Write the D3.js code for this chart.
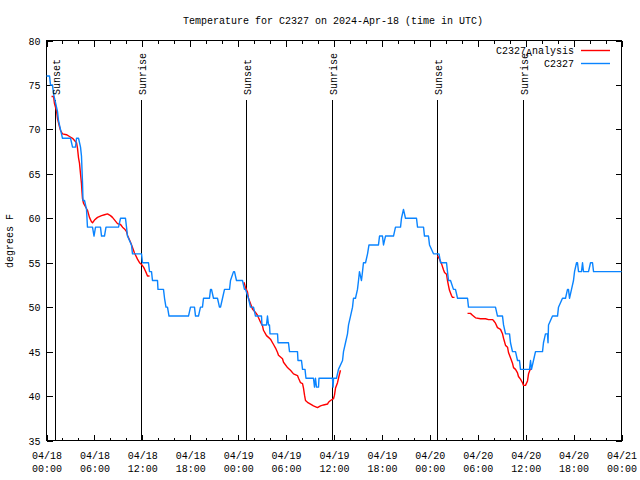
<!DOCTYPE html>
<html><head><meta charset="utf-8">
<script src="https://cdn.jsdelivr.net/npm/d3@7"></script>
<style>
body{margin:0;background:#fff}
text{font-family:"Liberation Mono","DejaVu Sans Mono",monospace;font-size:10px;fill:#000}
</style>
</head><body>
<svg id="c" width="640" height="480"></svg>
<script>
const titleText = "Temperature for C2327 on 2024-Apr-18 (time in UTC)";
const yLabel = "degrees F";
const startUTC = Date.UTC(2024, 3, 18);
const endUTC = Date.UTC(2024, 3, 21);
const yTicks = [35, 40, 45, 50, 55, 60, 65, 70, 75, 80];

// C2327 observations: hours since 2024-04-18 00:00 UTC, degrees F
const obsHours = [0,0.38,0.50,0.75,0.88,1.13,1.38,1.50,1.75,2.00,3.01,3.26,3.63,3.76,4.01,4.26,4.38,4.51,4.57,4.76,5.01,5.13,5.76,5.95,6.14,6.76,6.89,7.26,7.45,9.02,9.27,9.89,10.02,10.14,10.64,10.77,11.90,12.02,12.77,12.90,13.15,13.27,13.90,13.96,14.65,14.78,14.96,15.15,15.34,17.78,18.03,18.53,18.66,19.03,19.28,19.53,19.66,20.41,20.54,20.66,20.91,21.41,21.66,21.79,22.04,22.29,22.92,23.04,23.42,23.54,23.79,24.54,24.79,24.92,25.29,25.54,25.92,26.17,26.92,26.98,27.55,27.67,27.80,27.92,27.99,28.93,28.99,30.30,30.43,31.43,31.49,31.93,32.06,32.37,32.49,33.43,33.56,33.68,33.81,34.06,34.12,35.81,35.88,35.94,36.31,36.56,37.07,37.19,37.44,37.69,37.82,38.07,38.32,38.44,38.69,38.94,39.07,39.19,39.44,39.57,39.69,39.95,40.20,40.38,41.57,41.70,42.07,42.20,42.45,43.45,43.70,44.33,44.45,44.70,44.95,46.33,46.46,47.21,47.33,47.83,47.96,48.46,49.15,49.34,50.09,50.21,50.34,50.59,50.96,51.21,51.47,52.72,52.84,56.22,56.47,57.10,57.23,57.48,57.98,58.10,58.35,58.73,58.98,59.23,59.35,60.48,60.61,60.73,60.98,61.23,62.11,62.23,62.48,62.73,62.80,62.86,63.36,63.99,64.11,64.61,64.99,65.24,65.36,65.49,65.74,65.99,66.12,66.37,66.49,66.62,66.99,67.12,67.24,67.87,68.12,68.37,68.50,72.00];
const obsTemps = [76,76,75,75,74,73,72,71,70,69,69,68,68,69,69,68,67,64,62,62,61,59,59,58,59,59,58,58,59,59,60,60,59,58,57,56,56,55,55,54,54,53,53,52,52,51,50,50,49,49,50,50,49,49,50,50,51,51,52,52,51,51,50,50,51,52,52,53,54,54,53,53,52,52,51,50,50,49,49,48,48,49,48,48,47,47,46,46,45,45,44,44,43,43,42,42,41,42,41,41,42,42,41,42,42,43,44,45,46,47,48,49,50,51,51,52,53,54,53,54,55,55,56,57,57,58,58,57,58,58,59,59,60,61,60,60,59,59,58,58,57,56,56,55,55,54,53,53,52,52,51,51,50,50,49,49,48,47,47,46,45,45,44,44,43,43,44,43,44,45,45,46,47,47,46,48,49,49,50,51,51,52,52,51,52,53,54,55,55,54,54,55,54,54,55,55,54,54];

// C2327_Analysis: hours since start, degrees F (null = gap)
const anaHours = [0.63,0.88,1.00,1.25,1.38,1.63,1.75,2.00,2.50,2.88,3.26,3.76,3.88,4.01,4.13,4.26,4.38,4.45,4.51,4.63,4.88,5.13,5.38,5.63,5.76,6.01,6.39,6.89,7.26,7.64,8.01,8.26,8.89,9.27,9.52,9.77,10.02,10.14,10.52,10.77,11.02,11.39,11.65,11.90,12.15,12.27,12.52,12.65,12.90,
  18.0,
  24.73,24.92,25.17,25.29,25.54,25.79,26.17,26.42,26.55,26.80,27.05,27.17,27.55,27.80,28.05,28.30,28.43,28.68,28.93,29.05,29.55,29.68,30.18,30.30,30.55,30.93,31.43,31.56,31.81,32.06,32.18,32.31,32.43,32.68,33.06,33.43,33.93,34.31,34.69,35.19,35.31,35.56,35.94,36.06,36.19,36.44,36.56,36.81,
  42.0,
  48.96,49.21,49.46,49.71,49.84,50.09,50.21,50.34,50.46,50.71,50.84,51.09,
  52.0,
  52.72,53.09,53.34,53.72,54.35,54.97,55.35,55.85,55.97,56.22,56.47,56.85,57.10,57.23,57.48,57.73,57.85,58.10,58.35,58.48,58.73,58.98,59.10,59.35,59.60,59.73,59.98,60.23,60.36,60.61];
const anaTemps = [73.7,73.7,72.9,72.1,71.2,70.3,69.9,69.5,69.4,69.2,69.0,68.5,67.9,66.8,66.2,65.0,63.9,62.9,62.2,61.7,61.3,60.9,60.1,59.6,59.5,59.8,60.1,60.3,60.4,60.5,60.3,60.1,59.4,59.3,59.0,58.8,58.5,58.1,57.3,56.7,56.1,55.4,55.0,54.8,54.5,54.3,53.8,53.5,53.5,
  null,
  52.8,52.2,51.7,51.0,50.4,49.8,49.4,49.1,48.8,48.3,47.9,47.4,46.8,46.6,46.4,46.0,45.8,45.4,44.9,44.6,44.2,43.8,43.2,43.1,42.9,42.5,42.3,42.0,41.5,41.4,40.9,40.1,39.5,39.3,39.1,38.9,38.7,38.9,39.0,39.1,39.3,39.5,39.7,40.1,40.9,41.5,42.0,42.9,
  null,
  55.8,55.4,54.9,54.2,53.9,53.7,53.0,52.4,51.9,51.3,51.1,51.1,
  null,
  49.3,49.3,49.1,48.8,48.7,48.7,48.6,48.6,48.5,48.2,47.7,47.5,47.0,46.5,45.7,45.5,44.9,44.3,43.7,43.2,43.0,42.6,42.2,41.9,41.5,41.2,41.2,41.7,42.5,43.1];

const sunLabels = ["Sunset","Sunrise","Sunset","Sunrise","Sunset","Sunrise"];
const sunTimes = ["2024-04-18T01:04:00Z","2024-04-18T11:50:00Z","2024-04-19T01:01:00Z","2024-04-19T11:47:00Z","2024-04-20T01:00:00Z","2024-04-20T11:46:00Z"];

const seriesNames = ["C2327_Analysis", "C2327"];
const seriesColors = ["#ff0000", "#0a84ff"];

const svg = d3.select("#c");
const L = 46, R = 621, T = 40, B = 440;
const x = d3.scaleUtc().domain([new Date(startUTC), new Date(endUTC)]).range([L, R]);
const y = d3.scaleLinear().domain([35, 80]).range([B, T]);
const toDate = h => new Date(startUTC + h * 3600000);

const obs = obsHours.map((h, i) => ({t: toDate(h), v: obsTemps[i]}));
const ana = anaHours.map((h, i) => ({t: toDate(h), v: anaTemps[i]}));

const majorTicks = d3.utcHour.every(6).range(new Date(startUTC), new Date(endUTC + 1));
const minorTicks = d3.utcHour.every(2).range(new Date(startUTC), new Date(endUTC + 1)).filter(d => d.getUTCHours() % 6 !== 0);

const g = svg.append("g").attr("transform", "translate(0.5,0.5)");

function styleAxis(sel) {
  sel.select(".domain").remove();
  sel.selectAll("line").attr("stroke", "#000").attr("shape-rendering", "crispEdges");
}

// bottom axis
const xb = g.append("g").attr("transform", `translate(0,${B})`)
  .call(d3.axisBottom(x).tickValues(majorTicks).tickSizeInner(-6).tickSizeOuter(0).tickPadding(0)
    .tickFormat(d3.utcFormat("%m/%d|%H:%M")));
styleAxis(xb);
xb.selectAll("text").each(function(d) {
  const parts = d3.utcFormat("%m/%d|%H:%M")(d).split("|");
  const t = d3.select(this).attr("dy", null).attr("y", 18).text(null);
  t.append("tspan").attr("x", 0).attr("y", 18).text(parts[0]);
  t.append("tspan").attr("x", 0).attr("y", 31).text(parts[1]);
});
xb.attr("font-family", null).attr("font-size", null);

const xbm = g.append("g").attr("transform", `translate(0,${B})`)
  .call(d3.axisBottom(x).tickValues(minorTicks).tickSizeInner(-3).tickSizeOuter(0).tickFormat(""));
styleAxis(xbm);

// top axis
const xt = g.append("g").attr("transform", `translate(0,${T})`)
  .call(d3.axisTop(x).tickValues(majorTicks).tickSizeInner(-6).tickSizeOuter(0).tickFormat(""));
styleAxis(xt);
const xtm = g.append("g").attr("transform", `translate(0,${T})`)
  .call(d3.axisTop(x).tickValues(minorTicks).tickSizeInner(-3).tickSizeOuter(0).tickFormat(""));
styleAxis(xtm);

// left axis
const yl = g.append("g").attr("transform", `translate(${L},0)`)
  .call(d3.axisLeft(y).tickValues(yTicks).tickSizeInner(-6).tickSizeOuter(0).tickPadding(6));
styleAxis(yl);
yl.attr("font-family", null).attr("font-size", null);
yl.selectAll("text").attr("dy", "0.35em");

// right axis
const yr = g.append("g").attr("transform", `translate(${R},0)`)
  .call(d3.axisRight(y).tickValues(yTicks).tickSizeInner(-6).tickSizeOuter(0).tickFormat(""));
styleAxis(yr);

// border
g.append("rect").attr("x", L).attr("y", T).attr("width", R - L).attr("height", B - T)
  .attr("fill", "none").attr("stroke", "#000").attr("shape-rendering", "crispEdges");

// sun events
sunTimes.forEach((s, i) => {
  const xx = Math.round(x(new Date(s)));
  g.append("line").attr("x1", xx).attr("x2", xx).attr("y1", 99).attr("y2", B)
    .attr("stroke", "#000").attr("stroke-width", 1.2).attr("shape-rendering", "crispEdges");
  svg.append("text").attr("transform", `translate(${xx + 5},95) rotate(-90)`)
    .attr("text-anchor", "start").text(sunLabels[i]);
});

// lines
const line = d3.line().defined(d => d.v != null).x(d => x(d.t)).y(d => y(d.v));
g.append("path").datum(ana).attr("d", line).attr("fill", "none")
  .attr("stroke", seriesColors[0]).attr("stroke-width", 1.4).attr("stroke-linejoin", "round");
g.append("path").datum(obs).attr("d", line).attr("fill", "none")
  .attr("stroke", seriesColors[1]).attr("stroke-width", 1.4).attr("stroke-linejoin", "round");

// title
svg.append("text").attr("x", 333).attr("y", 24).attr("text-anchor", "middle").text(titleText);
// y label
svg.append("text").attr("transform", "translate(13,241) rotate(-90)").attr("text-anchor", "middle").text(yLabel);

// legend (gnuplot enhanced text: "_A" renders as a lowered A)
const lg = svg.append("g");
seriesNames.forEach((name, i) => {
  const yy = 50 + i * 13;
  const t = lg.append("text").attr("x", 574).attr("y", yy + 4).attr("text-anchor", "end");
  const parts = name.split("_");
  t.append("tspan").text(parts[0]);
  if (parts.length > 1) {
    t.append("tspan").attr("dy", 2).text(parts[1][0]);
    t.append("tspan").attr("dy", -2).text(parts[1].slice(1));
  }
  lg.append("line").attr("x1", 581).attr("x2", 610).attr("y1", yy + 0.5).attr("y2", yy + 0.5)
    .attr("stroke", seriesColors[i]).attr("stroke-width", 1.4);
});
</script>
</body></html>
